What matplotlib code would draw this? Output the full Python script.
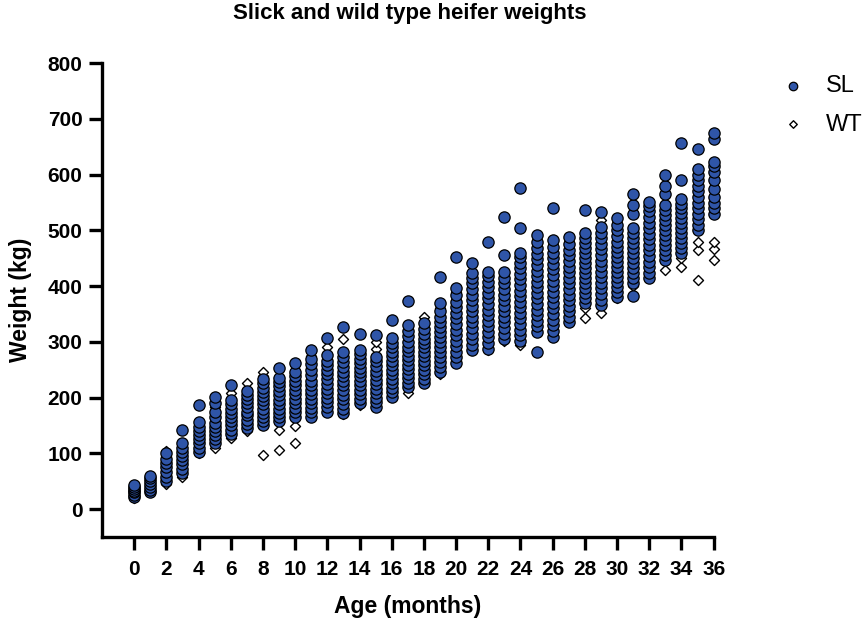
import matplotlib
matplotlib.use("Agg")
import matplotlib.pyplot as plt

plt.rcParams['font.family'] = ['Liberation Sans', 'DejaVu Sans']

# weights (kg) per month of age, 0..36
ages = list(range(37))

sl_kg = [
    [22, 26, 30, 33, 36, 40, 44],                                              # 0
    [30, 35, 40, 45, 50, 55, 60],                                              # 1
    [50, 58, 66, 75, 82, 90, 100],                                             # 2
    [65, 72, 80, 88, 95, 102, 110, 118, 142],                                  # 3
    [103, 110, 118, 125, 132, 140, 148, 157, 187],                             # 4
    [118, 125, 132, 140, 148, 155, 165, 175, 190, 201],                        # 5
    [135, 142, 150, 158, 165, 172, 180, 188, 195, 222],                        # 6
    [145, 152, 160, 168, 175, 183, 190, 198, 205, 211],                        # 7
    [150, 158, 165, 172, 180, 188, 195, 203, 210, 218, 226, 234],              # 8
    [158, 165, 172, 180, 188, 196, 204, 212, 220, 228, 236, 253],              # 9
    [166, 174, 182, 190, 198, 206, 214, 222, 230, 238, 246, 262],              # 10
    [166, 174, 182, 190, 198, 206, 214, 222, 230, 240, 250, 260, 270, 285],    # 11
    [175, 183, 192, 200, 208, 216, 225, 233, 242, 250, 258, 266, 276, 307],    # 12
    [172, 180, 188, 197, 205, 213, 222, 230, 238, 246, 255, 263, 272, 282, 326],
    [190, 198, 206, 214, 222, 230, 238, 246, 254, 262, 270, 278, 285, 315],    # 14
    [183, 192, 200, 208, 216, 224, 232, 240, 248, 256, 265, 273, 312],         # 15
    [201, 210, 218, 226, 234, 242, 250, 258, 266, 274, 282, 290, 298, 307, 339],
    [219, 227, 235, 243, 251, 259, 267, 275, 283, 291, 300, 310, 320, 330, 373],
    [226, 234, 242, 250, 258, 266, 274, 282, 290, 298, 306, 314, 324, 334],    # 18
    [246, 255, 264, 273, 282, 291, 300, 309, 318, 327, 336, 345, 355, 369, 417],
    [262, 272, 282, 292, 302, 312, 322, 332, 342, 352, 362, 372, 384, 396, 453],
    [285, 295, 305, 315, 325, 335, 345, 355, 365, 375, 385, 395, 405, 415, 424, 441],
    [288, 298, 308, 318, 328, 338, 348, 358, 368, 378, 388, 398, 408, 418, 426, 479],
    [305, 315, 325, 335, 345, 355, 365, 375, 385, 395, 405, 415, 426, 456, 524],
    [302, 312, 322, 332, 342, 352, 362, 372, 382, 392, 402, 412, 422, 432, 442, 452, 459, 504, 576],
    [282, 318, 328, 338, 348, 358, 368, 378, 388, 398, 408, 418, 428, 438, 448, 458, 468, 480, 491],
    [309, 320, 330, 340, 350, 360, 370, 380, 390, 400, 410, 420, 430, 440, 450, 460, 470, 482, 540],
    [335, 345, 355, 365, 375, 385, 395, 405, 415, 425, 435, 445, 455, 465, 475, 488],
    [369, 378, 387, 396, 405, 414, 423, 432, 441, 450, 459, 468, 477, 486, 495, 536],
    [366, 376, 386, 396, 406, 416, 426, 436, 446, 456, 466, 476, 486, 496, 506, 533],
    [381, 390, 399, 408, 417, 426, 435, 444, 453, 462, 471, 480, 490, 500, 510, 522],
    [382, 405, 414, 423, 432, 441, 450, 459, 468, 477, 486, 495, 504, 530, 546, 565],
    [414, 424, 434, 444, 454, 464, 474, 484, 494, 504, 514, 524, 534, 544, 551],
    [447, 456, 465, 474, 483, 492, 501, 510, 519, 528, 537, 545, 565, 580, 599],
    [459, 468, 477, 486, 495, 504, 513, 522, 531, 540, 548, 556, 590, 657],
    [500, 510, 520, 530, 540, 550, 560, 570, 580, 590, 600, 611, 647],
    [530, 540, 550, 560, 575, 590, 605, 615, 623, 664, 675],
]

wt_kg = [
    [20, 25, 28, 32, 38],
    [32, 38, 44, 52],
    [45, 55, 62, 70, 80, 95, 105],
    [58, 68, 85, 100, 112],
    [100, 108, 120, 130],
    [109, 125, 150, 170, 183],
    [127, 140, 160, 185, 200, 208],
    [140, 150, 170, 195, 215, 226],
    [97, 150, 165, 200, 225, 238, 246],
    [106, 142, 165, 190, 215, 235],
    [118, 149, 170, 200, 225, 245],
    [175, 195, 230, 255, 265, 275],
    [185, 205, 240, 262, 278, 290],
    [170, 190, 220, 250, 275, 305],
    [186, 200, 230, 260, 280],
    [195, 215, 240, 270, 287, 300],
    [205, 225, 250, 280, 300],
    [208, 222, 245, 270, 300, 320],
    [230, 250, 270, 300, 325, 345],
    [242, 260, 290, 320, 345, 360],
    [268, 290, 320, 350, 375, 390],
    [285, 300, 330, 360, 390, 410, 425],
    [285, 295, 320, 350, 385, 410],
    [302, 315, 340, 370, 400, 420],
    [294, 310, 340, 380, 420, 450],
    [321, 335, 360, 400, 440, 465],
    [330, 345, 370, 410, 440, 460],
    [340, 352, 380, 420, 450],
    [342, 360, 385, 410, 440, 470],
    [352, 370, 400, 440, 480, 518],
    [378, 390, 420, 455, 490],
    [400, 410, 430, 460, 500],
    [420, 440, 470, 500, 520],
    [429, 445, 470, 500, 530],
    [435, 450, 470, 500, 530, 545],
    [411, 465, 480, 500, 530, 560],
    [447, 466, 480, 530, 545, 560],
]

sl_x, sl_y, wt_x, wt_y = [], [], [], []
for a, vals in zip(ages, sl_kg):
    sl_x += [a] * len(vals)
    sl_y += vals
for a, vals in zip(ages, wt_kg):
    wt_x += [a] * len(vals)
    wt_y += vals

fig = plt.figure(figsize=(8.64, 6.2), dpi=100)
ax = fig.add_axes([0.118, 0.134, 0.708, 0.764])

h_wt = ax.scatter(wt_x, wt_y, marker='D', s=26, facecolor='white',
                  edgecolor='black', linewidth=1.0, zorder=2, clip_on=False)
h_sl = ax.scatter(sl_x, sl_y, marker='o', s=66, facecolor='#2f55a8',
                  edgecolor='black', linewidth=0.9, zorder=3, clip_on=False)

ax.set_xlim(-2, 36)
ax.set_ylim(-50, 800)
ax.set_xticks(range(0, 37, 2))
ax.set_yticks(range(0, 801, 100))

for s in ['top', 'right']:
    ax.spines[s].set_visible(False)
for s in ['left', 'bottom']:
    ax.spines[s].set_linewidth(2.4)
ax.tick_params(width=2.4, length=9.5, labelsize=15)
ax.tick_params(axis='x', pad=7)
ax.tick_params(axis='y', pad=4.5)
for lab in ax.get_xticklabels() + ax.get_yticklabels():
    lab.set_fontweight('bold')

ax.set_xlabel('Age (months)', fontsize=16.5, fontweight='bold')
ax.set_ylabel('Weight (kg)', fontsize=16.5, fontweight='bold')
ax.xaxis.set_label_coords(0.5, -0.122)
ax.yaxis.set_label_coords(-0.114, 0.5)

fig.text(0.474, 1 - 14 / 620, 'Slick and wild type heifer weights',
         fontsize=16, fontweight='bold', ha='center', va='center')

ax.legend([h_sl, h_wt], ['SL', 'WT'], loc='upper left',
          bbox_to_anchor=(1.075, 1.019), frameon=False, fontsize=17,
          handlelength=1.0, handletextpad=0.9, labelspacing=0.68,
          markerscale=0.75)

fig.savefig('out.png', dpi=100)
